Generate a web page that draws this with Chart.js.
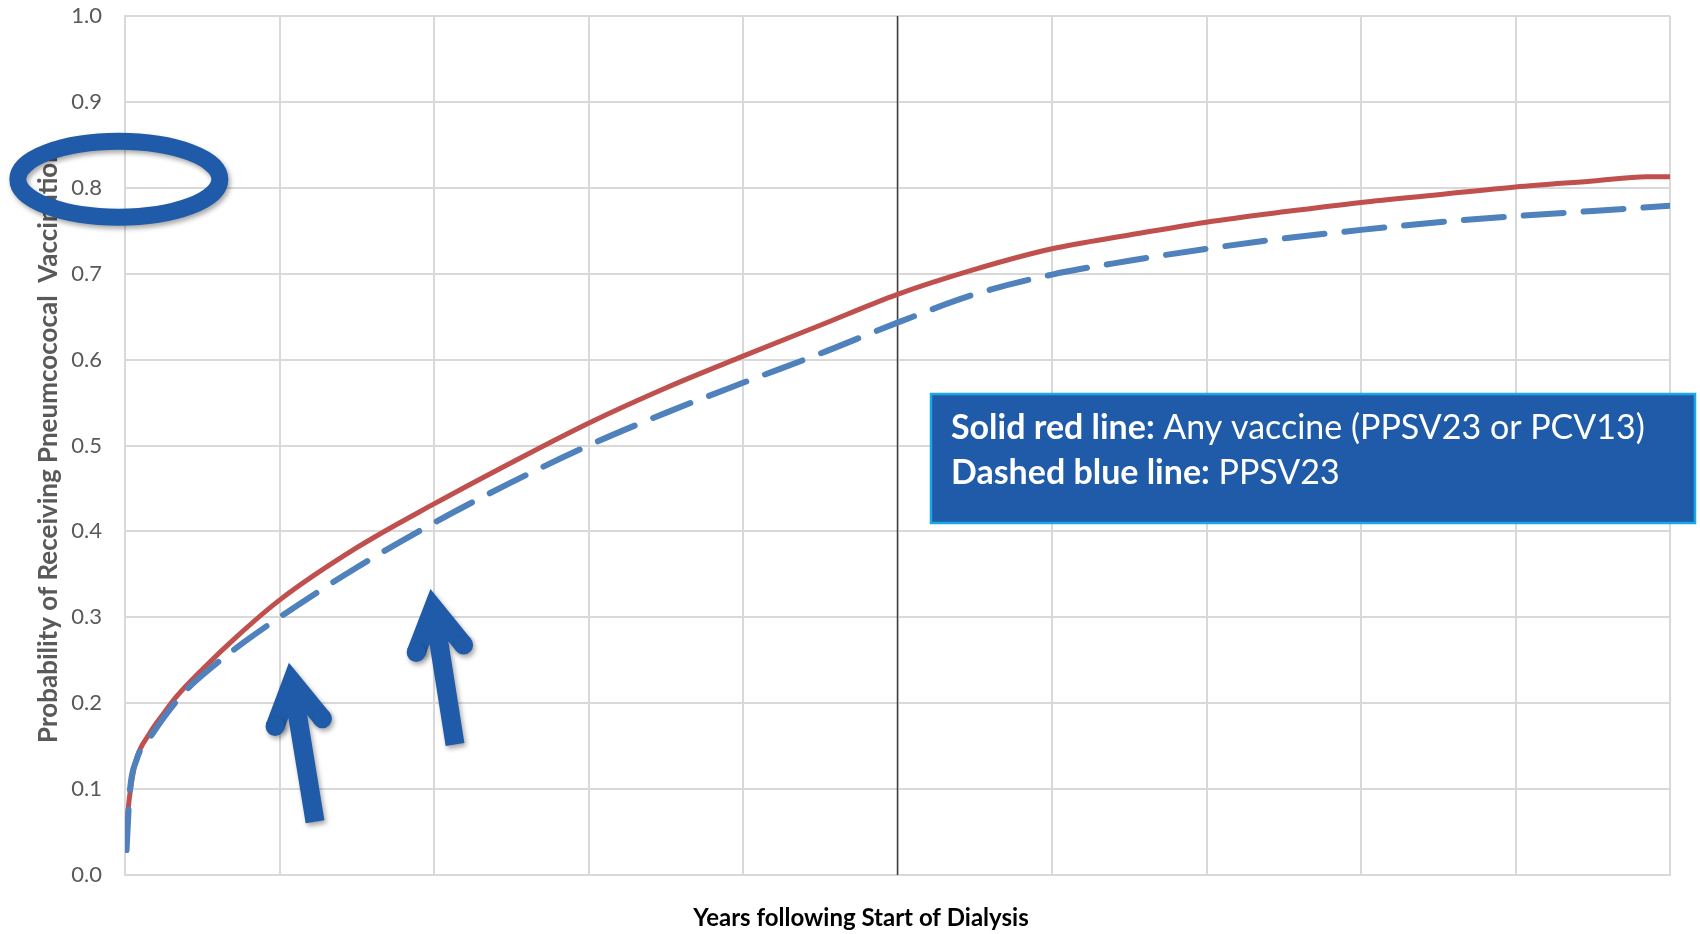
<!DOCTYPE html>
<html>
<head>
<meta charset="utf-8">
<script src="https://cdn.jsdelivr.net/npm/chart.js@4"></script>
<style>
  body { margin: 0; background: #fff; }
  #chart { display: block; }
</style>
</head>
<body>
<canvas id="chart" width="1700" height="934"></canvas>
<script>
// years after start of dialysis (x) and cumulative probability (y)
let redYears = [0.01, 0.02, 0.04, 0.07, 0.16, 0.25, 0.33, 0.51, 0.72, 1.0, 1.5, 2.0, 2.5, 3.0, 3.5, 4.0, 4.5, 5.0, 5.5, 6.0, 6.5, 7.0, 7.5, 8.0, 8.5, 9.0, 9.5, 9.85, 10.0];
let redProb  = [0.05, 0.076, 0.105, 0.133, 0.165, 0.188, 0.207, 0.241, 0.277, 0.320, 0.381, 0.432, 0.480, 0.526, 0.567, 0.604, 0.640, 0.676, 0.705, 0.729, 0.745, 0.760, 0.772, 0.783, 0.792, 0.801, 0.808, 0.813, 0.813];

let blueYears = [0.01, 0.03, 0.075, 0.18, 0.38, 0.57, 0.77, 1.0, 1.5, 2.0, 2.5, 3.0, 3.5, 4.0, 4.5, 5.0, 5.5, 6.0, 6.5, 7.0, 7.5, 8.0, 8.5, 9.0, 9.5, 10.0];
let blueProb  = [0.029, 0.095, 0.134, 0.165, 0.212, 0.243, 0.271, 0.300, 0.358, 0.410, 0.457, 0.500, 0.538, 0.573, 0.607, 0.643, 0.676, 0.699, 0.715, 0.729, 0.741, 0.751, 0.760, 0.767, 0.773, 0.779];

let yTicks = [0, 0.1, 0.2, 0.3, 0.4, 0.5, 0.6, 0.7, 0.8, 0.9, 1.0];
let markerYear = 5;
let xTitle = 'Years following Start of Dialysis';
let yTitle = 'Probability of Receiving Pneumcococal  Vaccination';

let legendBold = ["Solid red line:", "Dashed blue line:"];
let legendText = [" Any vaccine (PPSV23 or PCV13)", " PPSV23"];

// arrows: tip and tail in data units
let arrows = [
  { tip: [1.061, 0.247], tail: [1.230, 0.062] },
  { tip: [1.977, 0.333], tail: [2.136, 0.152] }
];
let ringCenter = [-0.04, 0.81];

function toPoints(xs, ys) {
  let pts = [];
  for (let i = 0; i < xs.length; i++) {
    pts.push({ x: xs[i], y: ys[i] });
  }
  return pts;
}

const gridGray = '#d9d9d9';
const markBlue = '#1f5ba8';

let extrasPlugin = {
  id: 'extras',
  beforeDatasetsDraw(chart) {
    let ctx = chart.ctx;
    let xs = chart.scales.x;
    let area = chart.chartArea;
    let px = xs.getPixelForValue(markerYear);
    ctx.save();
    ctx.strokeStyle = '#404040';
    ctx.lineWidth = 1.5;
    ctx.beginPath();
    ctx.moveTo(px, area.top);
    ctx.lineTo(px, area.bottom);
    ctx.stroke();
    ctx.restore();
  },
  afterDraw(chart) {
    let ctx = chart.ctx;
    let xs = chart.scales.x;
    let ys = chart.scales.y;

    // x axis title (sits left of centre in the original)
    ctx.save();
    ctx.font = 'bold 24px Lato';
    ctx.fillStyle = '#000';
    ctx.textAlign = 'center';
    ctx.textBaseline = 'middle';
    ctx.fillText(xTitle, 861, 918);
    ctx.restore();

    // legend text box
    let bx = 931, by = 394, bw = 764, bh = 129;
    ctx.save();
    ctx.fillStyle = markBlue;
    ctx.fillRect(bx, by, bw, bh);
    ctx.strokeStyle = '#1aa7e6';
    ctx.lineWidth = 2.5;
    ctx.strokeRect(bx, by, bw, bh);

    let size = 32;
    ctx.font = 'bold ' + size + 'px Lato';
    let w1 = ctx.measureText(legendBold[0]).width;
    ctx.font = size + 'px Lato';
    w1 += ctx.measureText(legendText[0]).width;
    size = size * 694 / w1;

    ctx.fillStyle = '#ffffff';
    ctx.textBaseline = 'alphabetic';
    let baselines = [439, 484];
    for (let i = 0; i < legendBold.length; i++) {
      ctx.font = 'bold ' + size + 'px Lato';
      ctx.fillText(legendBold[i], 951, baselines[i]);
      let wb = ctx.measureText(legendBold[i]).width;
      ctx.font = size + 'px Lato';
      ctx.fillText(legendText[i], 951 + wb, baselines[i]);
    }
    ctx.restore();

    // ring around the 0.8 tick
    ctx.save();
    ctx.shadowColor = 'rgba(0,0,0,0.35)';
    ctx.shadowBlur = 5;
    ctx.shadowOffsetX = 2;
    ctx.shadowOffsetY = 3;
    ctx.strokeStyle = markBlue;
    ctx.lineWidth = 17;
    ctx.beginPath();
    ctx.ellipse(xs.getPixelForValue(ringCenter[0]), ys.getPixelForValue(ringCenter[1]), 101, 38, 0, 0, Math.PI * 2);
    ctx.stroke();
    ctx.restore();

    // arrows
    for (const a of arrows) {
      let tx = xs.getPixelForValue(a.tip[0]);
      let ty = ys.getPixelForValue(a.tip[1]);
      let lx = xs.getPixelForValue(a.tail[0]);
      let ly = ys.getPixelForValue(a.tail[1]);
      let len = Math.hypot(lx - tx, ly - ty);
      let dx = (lx - tx) / len, dy = (ly - ty) / len;
      let lw = 19;
      let ang = 30 * Math.PI / 180;
      let ext = (lw / 2) / Math.sin(ang);
      let cx = tx + dx * ext, cy = ty + dy * ext;
      let wl = 48;
      let w1x = cx + wl * (dx * Math.cos(ang) - dy * Math.sin(ang));
      let w1y = cy + wl * (dx * Math.sin(ang) + dy * Math.cos(ang));
      let w2x = cx + wl * (dx * Math.cos(-ang) - dy * Math.sin(-ang));
      let w2y = cy + wl * (dx * Math.sin(-ang) + dy * Math.cos(-ang));

      ctx.save();
      ctx.shadowColor = 'rgba(0,0,0,0.35)';
      ctx.shadowBlur = 5;
      ctx.shadowOffsetX = 2;
      ctx.shadowOffsetY = 3;
      ctx.strokeStyle = markBlue;
      ctx.fillStyle = markBlue;
      ctx.lineWidth = lw;
      ctx.lineJoin = 'miter';
      ctx.miterLimit = 10;
      ctx.beginPath();
      ctx.moveTo(lx, ly);
      ctx.lineTo(cx + dx * 4, cy + dy * 4);
      ctx.moveTo(w1x, w1y);
      ctx.lineTo(cx, cy);
      ctx.lineTo(w2x, w2y);
      ctx.lineCap = 'butt';
      ctx.stroke();
      // round ends on the wings only
      ctx.beginPath();
      ctx.arc(w1x, w1y, lw / 2, 0, Math.PI * 2);
      ctx.arc(w2x, w2y, lw / 2, 0, Math.PI * 2);
      ctx.fill();
      ctx.restore();
    }
  }
};

new Chart(document.getElementById('chart'), {
  type: 'scatter',
  data: {
    datasets: [
      {
        label: 'PPSV23',
        data: toPoints(blueYears, blueProb),
        showLine: true,
        borderColor: '#4f81bd',
        borderWidth: 6,
        borderDash: [40, 20],
        borderCapStyle: 'round',
        pointRadius: 0,
        cubicInterpolationMode: 'monotone',
        order: 0
      },
      {
        label: 'Any vaccine (PPSV23 or PCV13)',
        data: toPoints(redYears, redProb),
        showLine: true,
        borderColor: '#c0504d',
        borderWidth: 5,
        borderCapStyle: 'round',
        pointRadius: 0,
        cubicInterpolationMode: 'monotone',
        order: 1
      }
    ]
  },
  options: {
    responsive: false,
    animation: false,
    devicePixelRatio: 1,
    layout: { padding: { top: 16, right: 30, bottom: 0, left: 0 } },
    plugins: {
      legend: { display: false },
      tooltip: { enabled: false }
    },
    scales: {
      x: {
        type: 'linear',
        min: 0,
        max: 10,
        ticks: { display: false, stepSize: 1 },
        grid: { color: gridGray, lineWidth: 2, drawTicks: false },
        border: { color: gridGray, width: 2 },
        title: { display: false },
        afterFit: function(scale) {
          scale.height = 59;
          scale.paddingLeft = 0;
          scale.paddingRight = 0;
        }
      },
      y: {
        min: 0,
        max: 1,
        afterBuildTicks: function(scale) {
          scale.ticks = yTicks.map(v => ({ value: v }));
        },
        ticks: {
          color: '#595959',
          font: { family: 'Lato', size: 22 },
          padding: 23,
          callback: function(v) { return Number(v).toFixed(1); }
        },
        grid: { color: gridGray, lineWidth: 2, drawTicks: false },
        border: { color: gridGray, width: 2 },
        title: {
          display: true,
          text: yTitle,
          color: '#595959',
          font: { family: 'Lato', size: 26, weight: 'bold' },
          padding: { top: 33, bottom: 0 }
        },
        afterFit: function(scale) {
          scale.width = 125;
          scale.paddingTop = 0;
          scale.paddingBottom = 0;
        }
      }
    }
  },
  plugins: [extrasPlugin]
});
</script>
</body>
</html>
